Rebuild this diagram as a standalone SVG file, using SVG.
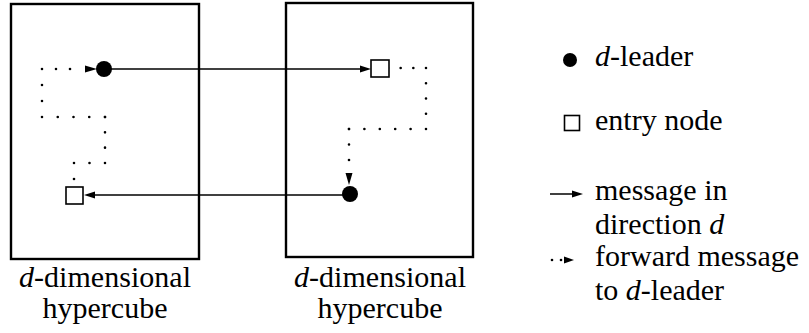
<svg xmlns="http://www.w3.org/2000/svg" width="809" height="333" viewBox="0 0 809 333">
<defs>
  <circle id="dotmark" r="1.3" fill="#000"/>
</defs>
<rect width="809" height="333" fill="#fff"/>

<g id="hypercube-left">
  <rect x="11" y="4" width="188" height="255" fill="none" stroke="#000" stroke-width="2.4"/>
  <text font-family="Liberation Serif, Times New Roman, serif" font-size="30" x="105" y="287" text-anchor="middle" textLength="172" lengthAdjust="spacing"><tspan font-style="italic">d</tspan>-dimensional</text>
  <text font-family="Liberation Serif, Times New Roman, serif" font-size="30" x="105" y="318" text-anchor="middle">hypercube</text>
</g>
<g id="hypercube-right">
  <rect x="286" y="3" width="187" height="254" fill="none" stroke="#000" stroke-width="2.4"/>
  <text font-family="Liberation Serif, Times New Roman, serif" font-size="30" x="380" y="287" text-anchor="middle" textLength="172" lengthAdjust="spacing"><tspan font-style="italic">d</tspan>-dimensional</text>
  <text font-family="Liberation Serif, Times New Roman, serif" font-size="30" x="380" y="318" text-anchor="middle">hypercube</text>
</g>

<g id="connectors">
  <g fill="none" stroke="#000" stroke-width="2.6" stroke-linecap="round" stroke-dasharray="0 1">
    <path d="M74,179 L74,163" pathLength="1"/>
    <path d="M74,163 L105,163" pathLength="2"/>
    <path d="M105,163 L105,117" pathLength="3"/>
    <path d="M105,117 L42,117" pathLength="4"/>
    <path d="M42,117 L42,69" pathLength="3"/>
    <path d="M42,69 L70,69" pathLength="2"/>
    <path d="M388,68 L426,68" pathLength="3"/>
    <path d="M426,68 L426,129" pathLength="4"/>
    <path d="M426,129 L349,129" pathLength="5"/>
    <path d="M349,129 L349,160" pathLength="2"/>
  </g>
  <use href="#dotmark" x="70" y="69"/>
  <use href="#dotmark" x="349" y="160"/>
  <g fill="none" stroke="#000" stroke-width="1.5">
    <line x1="104" y1="69" x2="362" y2="69"/>
    <line x1="350" y1="195" x2="94" y2="195"/>
  </g>
  <g fill="#000">
    <polygon points="85,65.5 97,69 85,72.5"/>
    <polygon points="345.5,173 352.5,173 349,185"/>
    <polygon points="360,65.5 371,69 360,72.5"/>
    <polygon points="95,191.5 84,195 95,198.5"/>
  </g>
</g>

<g id="leader-left"><circle cx="104" cy="69" r="8" fill="#000"/></g>
<g id="entry-left"><rect x="66" y="187" width="17" height="17" fill="#fff" stroke="#000" stroke-width="1.6"/></g>
<g id="entry-right"><rect x="371" y="60" width="18" height="17" fill="#fff" stroke="#000" stroke-width="1.6"/></g>
<g id="leader-right"><circle cx="350" cy="194" r="8" fill="#000"/></g>

<g id="legend">
  <circle cx="570" cy="60" r="7" fill="#000"/>
  <text font-family="Liberation Serif, Times New Roman, serif" font-size="30" x="595" y="66"><tspan font-style="italic">d</tspan>-leader</text>
  <rect x="564.5" y="115.5" width="15" height="15" fill="#fff" stroke="#000" stroke-width="1.6"/>
  <text font-family="Liberation Serif, Times New Roman, serif" font-size="30" x="595" y="130">entry node</text>
  <line x1="550" y1="194" x2="574" y2="194" stroke="#000" stroke-width="1.5"/>
  <polygon points="572,190.5 583,194 572,197.5" fill="#000"/>
  <text font-family="Liberation Serif, Times New Roman, serif" font-size="30" x="595" y="200">message in</text>
  <text font-family="Liberation Serif, Times New Roman, serif" font-size="30" x="595" y="234">direction <tspan font-style="italic">d</tspan></text>
  <use href="#dotmark" x="552" y="260"/>
  <use href="#dotmark" x="561" y="260"/>
  <polygon points="564,256.5 574,260 564,263.5" fill="#000"/>
  <text font-family="Liberation Serif, Times New Roman, serif" font-size="30" x="595" y="266">forward message</text>
  <text font-family="Liberation Serif, Times New Roman, serif" font-size="30" x="595" y="300">to <tspan font-style="italic">d</tspan>-leader</text>
</g>
</svg>
